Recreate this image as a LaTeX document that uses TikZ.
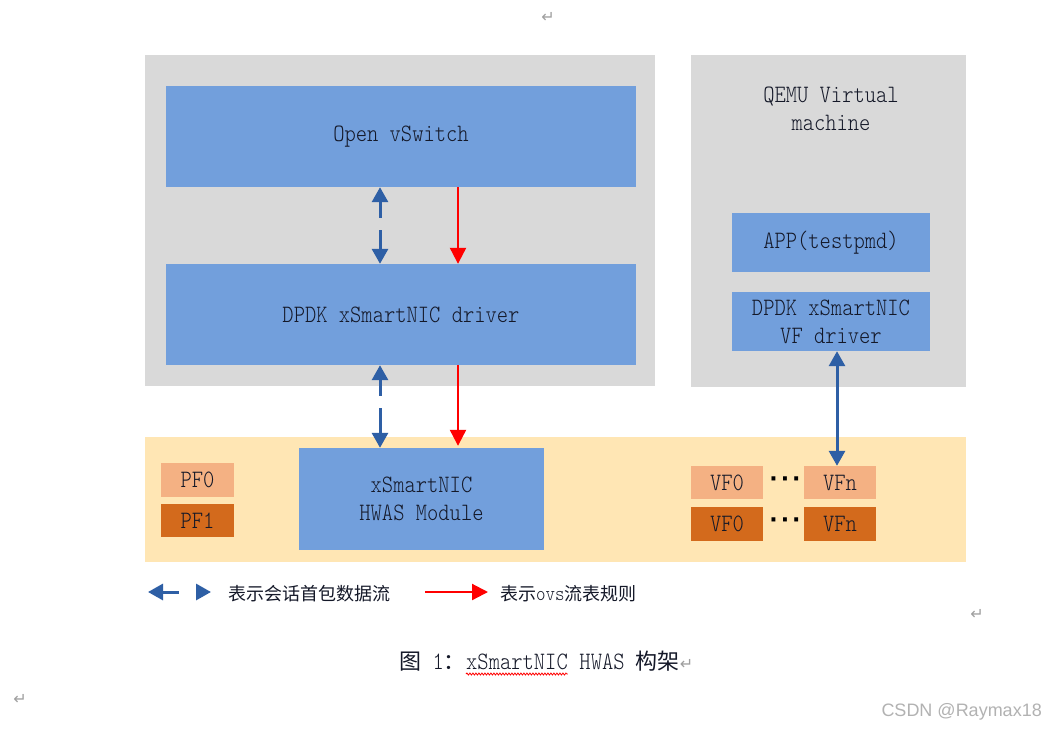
\documentclass[tikz,border=0pt]{standalone}
\usepackage{fontspec}
\usepackage{xcolor}
\usepackage{tikz}
\usetikzlibrary{arrows.meta,positioning,decorations.pathmorphing}
\newfontfamily\cjk{Noto Sans CJK SC}
\newfontfamily\nicmono[FakeStretch=0.86]{lmmonolt10-regular.otf}
\newfontfamily\symfont{DejaVu Sans}
\newfontfamily\wmfont{Liberation Sans}
\newcommand{\capzh}[1]{{\cjk\fontsize{22}{28}\selectfont #1}}
\definecolor{nicblue}{RGB}{114,159,220}
\definecolor{nicgray}{RGB}{217,217,217}
\definecolor{nicband}{RGB}{255,230,180}
\definecolor{pflight}{RGB}{244,177,131}
\definecolor{pfdark}{RGB}{211,106,28}
\definecolor{arrblue}{RGB}{46,95,165}
\definecolor{niktext}{RGB}{20,24,40}

\begin{document}
\begin{tikzpicture}[
    x=1pt, y=-1pt,
    panel/.style={fill=nicgray, inner sep=0pt},
    box/.style={fill=nicblue, inner sep=0pt, align=center, text=niktext, font=\nicmono\fontsize{25}{28}\selectfont},
    port/.style={inner sep=0pt, minimum width=73pt, minimum height=33pt, text=niktext, font=\nicmono\fontsize{25}{28}\selectfont},
    dotsep/.style={inner sep=0pt, font=\symfont\bfseries\fontsize{22}{22}\selectfont},
    ovsarr/.style={-{Triangle[length=16pt,width=16pt]}, line width=2.2pt, red},
    pktarr/.style={{Triangle[length=15pt,width=16pt]}-{Triangle[length=15pt,width=16pt]}, line width=3pt, arrblue},
    pktdash/.style={pktarr, dash pattern=on 17pt off 12pt on 100pt},
    legtxt/.style={anchor=west, inner sep=0pt, text=niktext, font=\cjk\fontsize{18}{22}\selectfont},
    captxt/.style={inner sep=0pt, text=niktext, font=\nicmono\fontsize{25}{28}\selectfont},
    retmark/.style={inner sep=0pt, text=gray!75, font=\symfont\fontsize{16}{16}\selectfont}
]
\fill[white] (0,0) rectangle (1057,732);
\useasboundingbox (0,0) rectangle (1057,732);

\node[panel, minimum width=510pt, minimum height=331pt] (host) at (400,220.5) {};
\node[panel, minimum width=275pt, minimum height=332pt] (vm) at (828.5,221) {};
\node[fill=nicband, inner sep=0pt, minimum width=821pt, minimum height=125pt] (nic) at (555.5,499.5) {};

\node[box, minimum width=470pt, minimum height=101pt] (ovs) at (401,136.5) {Open vSwitch};
\node[box, minimum width=470pt, minimum height=101pt] (drv) at (401,314.5) {DPDK xSmartNIC driver};
\node[box, minimum width=245pt, minimum height=102pt] (hwas) at (421.5,499) {xSmartNIC\\ HWAS Module};

\node[align=center, inner sep=0pt, text=niktext, font=\nicmono\fontsize{25}{28}\selectfont] (qemu) at (831,109) {QEMU Virtual\\machine};
\node[box, minimum width=198pt, minimum height=59pt] (app) at (831,242.5) {APP(testpmd)};
\node[box, minimum width=198pt, minimum height=59pt] (vfdrv) at (831,321.5) {DPDK xSmartNIC\\VF driver};

\node[port, fill=pflight, minimum height=34pt] (pf0) at (197.5,480) {PF0};
\node[port, fill=pfdark, below=7pt of pf0] (pf1) {PF1};

\node[port, fill=pflight, minimum width=72pt] (vf0a) at (727,482.5) {VF0};
\node[port, fill=pflight, minimum width=72pt] (vfna) at (840,482.5) {VFn};
\node[port, fill=pfdark, minimum width=72pt, minimum height=34pt] (vf0b) at (727,524) {VF0};
\node[port, fill=pfdark, minimum width=72pt, minimum height=34pt] (vfnb) at (840,524) {VFn};
\node[dotsep] (dotsa) at (785,482) {·\hspace{3pt}·\hspace{3pt}·};
\node[dotsep] (dotsb) at (785,523) {·\hspace{3pt}·\hspace{3pt}·};

\draw[pktdash] ([xshift=-21pt]ovs.south) -- ([xshift=-21pt]drv.north);
\draw[ovsarr] ([xshift=57pt]ovs.south) -- ([xshift=57pt]drv.north);
\draw[pktdash] ([xshift=-21pt]drv.south) -- ([xshift=-21pt]drv.south |- hwas.north);
\draw[ovsarr] ([xshift=57pt]drv.south) -- ([xshift=57pt,yshift=2pt]drv.south |- hwas.north);
\draw[pktarr] ([xshift=6pt]vfdrv.south) -- ([xshift=6pt]vfdrv.south |- vfna.north);

\coordinate (pktL) at (148,592);
\coordinate (pktR) at (211,592);
\coordinate (ovsL) at (425,592);
\coordinate (ovsR) at (488,592);
\draw[pktarr, dash pattern=on 17pt off 20pt] (pktL) -- (pktR);
\draw[ovsarr] (ovsL) -- (ovsR);
\node[legtxt] (pktlbl) at (228,594) {表示会话首包数据流};
\node[legtxt] (ovslbl) at (500,594) {表示{\nicmono\fontsize{21}{22}\selectfont ovs}流表规则};

\node[captxt, anchor=base west] (capword) at (466,669) {xSmartNIC};
\node[captxt, anchor=base east] (capl) at (capword.base west) {\capzh{图}~1\capzh{：}};
\node[captxt, anchor=base west] (capr) at (capword.base east) {~HWAS~\capzh{构架}{\symfont\fontsize{16}{16}\selectfont\color{gray!75}↵}};
\draw[red, line width=0.8pt, decorate, decoration={snake, amplitude=1pt, segment length=3pt}] ([yshift=-5pt]capword.base west) -- ([yshift=-5pt]capword.base east);

\node[retmark] (ret1) at (548,17) {↵};
\node[retmark] (ret2) at (977,614) {↵};
\node[retmark] (ret3) at (20,699) {↵};
\node[anchor=east, inner sep=0pt, text=gray!60, font=\wmfont\fontsize{18}{20}\selectfont] (mark) at (1042,712) {CSDN @Raymax18};
\end{tikzpicture}
\end{document}
